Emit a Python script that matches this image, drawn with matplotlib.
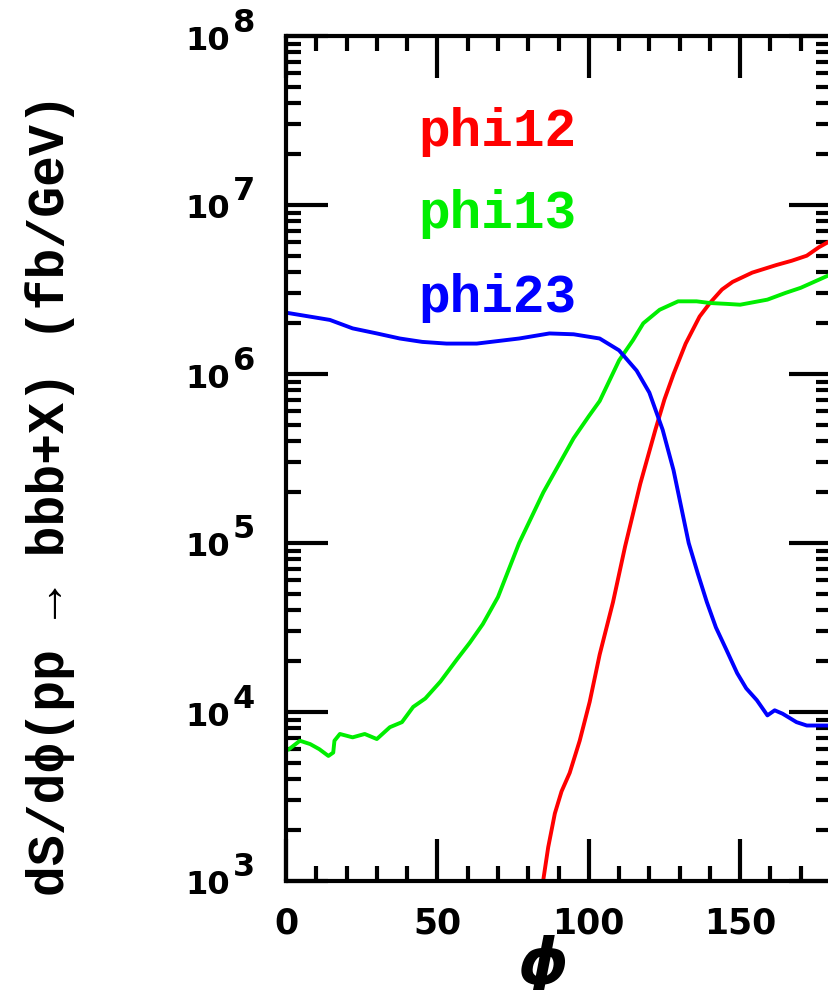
import numpy as np
import matplotlib
matplotlib.use('Agg')
import matplotlib.pyplot as plt
import matplotlib.transforms as mtransforms
from matplotlib.ticker import LogLocator, MultipleLocator, NullFormatter

### DATA (log10 of dS/dphi) ###
phi12_x = [84.5, 86.6, 88.8, 91, 93.7, 97, 100.3, 103.6, 108, 112, 117, 122, 125, 128, 132,
           136.6, 140, 144, 147.5, 154, 162, 167, 172, 176, 180]
phi12_log = [2.95, 3.2, 3.4, 3.53, 3.64, 3.83, 4.06, 4.34, 4.65, 4.98, 5.35, 5.67, 5.85, 6.0, 6.18,
             6.34, 6.42, 6.50, 6.545, 6.60, 6.645, 6.67, 6.70, 6.75, 6.79]

phi13_x = [1, 4.6, 8, 11, 14, 15.6, 16, 17.8, 22, 26, 30, 34.3, 38.3, 42, 46, 51, 56.4, 60.7,
           65, 70, 77, 85, 90, 95, 100, 103.6, 110, 114.6, 118, 123.4, 129.5, 135.6, 140,
           145.5, 150, 159, 165, 170, 175, 180]
phi13_log = [3.78, 3.83, 3.81, 3.78, 3.74, 3.76, 3.83, 3.87, 3.85, 3.87, 3.84, 3.91, 3.94, 4.03,
             4.08, 4.18, 4.31, 4.41, 4.52, 4.68, 5.0, 5.3, 5.46, 5.62, 5.75, 5.84, 6.08, 6.20,
             6.30, 6.38, 6.43, 6.43, 6.42, 6.415, 6.41, 6.44, 6.48, 6.51, 6.55, 6.59]

phi23_x = [1, 14.5, 22, 30, 37.6, 45, 53, 63, 77, 87, 95, 103.6, 110, 115.8, 120, 124.4, 128,
           133, 136, 139, 142, 145.4, 149, 152, 155.5, 159, 161.4, 164, 168.6, 172, 180]
phi23_log = [6.36, 6.32, 6.27, 6.24, 6.21, 6.19, 6.18, 6.18, 6.21, 6.24, 6.235, 6.21, 6.14, 6.02,
             5.89, 5.67, 5.43, 5.0, 4.82, 4.65, 4.50, 4.37, 4.23, 4.14, 4.07, 3.98, 4.01, 3.99,
             3.94, 3.92, 3.92]

names = ['phi12', 'phi13', 'phi23']
colors = ['#ff0000', '#00ee00', '#0000ff']
decades = [3, 4, 5, 6, 7, 8]

fig = plt.figure(figsize=(8.29, 9.9), dpi=100)
ax = fig.add_axes([286/829, 109/990, 545/829, 845/990])

ax.plot(phi12_x, 10**np.array(phi12_log), color=colors[0], lw=2.8)
ax.plot(phi13_x, 10**np.array(phi13_log), color=colors[1], lw=2.8)
ax.plot(phi23_x, 10**np.array(phi23_log), color=colors[2], lw=2.8)

ax.set_yscale('log')
ax.set_xlim(0, 180)
ax.set_ylim(1e3, 1e8)

### TICKS ###
ax.xaxis.set_major_locator(MultipleLocator(50))
ax.xaxis.set_minor_locator(MultipleLocator(10))
ax.yaxis.set_major_locator(LogLocator(base=10, numticks=10))
ax.yaxis.set_minor_locator(LogLocator(base=10, subs=np.arange(2, 10), numticks=20))
ax.yaxis.set_minor_formatter(NullFormatter())
ax.yaxis.set_major_formatter(NullFormatter())
ax.tick_params(which='both', direction='in', top=True, right=True, width=3)
ax.tick_params(which='major', length=30)
ax.tick_params(which='minor', length=11)
ax.tick_params(axis='x', which='major', labelsize=25, pad=18)
for lab in ax.get_xticklabels():
    lab.set_fontweight('bold')
for s in ax.spines.values():
    s.set_linewidth(3)

# y tick labels: "10" with a big raised exponent
base = mtransforms.blended_transform_factory(ax.transAxes, ax.transData)
down = base + mtransforms.ScaledTranslation(0, -5/100, fig.dpi_scale_trans)
up = base + mtransforms.ScaledTranslation(0, 13/100, fig.dpi_scale_trans)
for d in decades:
    ax.text(-56/545, 10.0**d, '10', transform=down, ha='right', va='center',
            fontsize=23, fontweight='bold', clip_on=False)
    ax.text(-53/545, 10.0**d, str(d), transform=up, ha='left', va='center',
            fontsize=23, fontweight='bold', clip_on=False)

### LABELS ###
fig.text(543/829, 1 - 966/990, '\u03d5', fontsize=46, fontstyle='italic',
         fontweight='bold', ha='center', va='center')
fig.text(50/829, 1 - 495/990, 'dS/d\u03d5(pp \u2192 bbb+X) (fb/GeV)',
         rotation=90, ha='center', va='center', fontsize=37,
         family=['Liberation Mono', 'DejaVu Sans'], fontweight='bold')

ypos = [132, 214, 298]
for n, c, yp in zip(names, colors, ypos):
    ax.text(132/545, (881 - yp)/845, n, color=c, transform=ax.transAxes,
            fontsize=38, family='Liberation Mono', fontweight='bold',
            va='center', ha='left')

fig.savefig('out.png', dpi=100)
